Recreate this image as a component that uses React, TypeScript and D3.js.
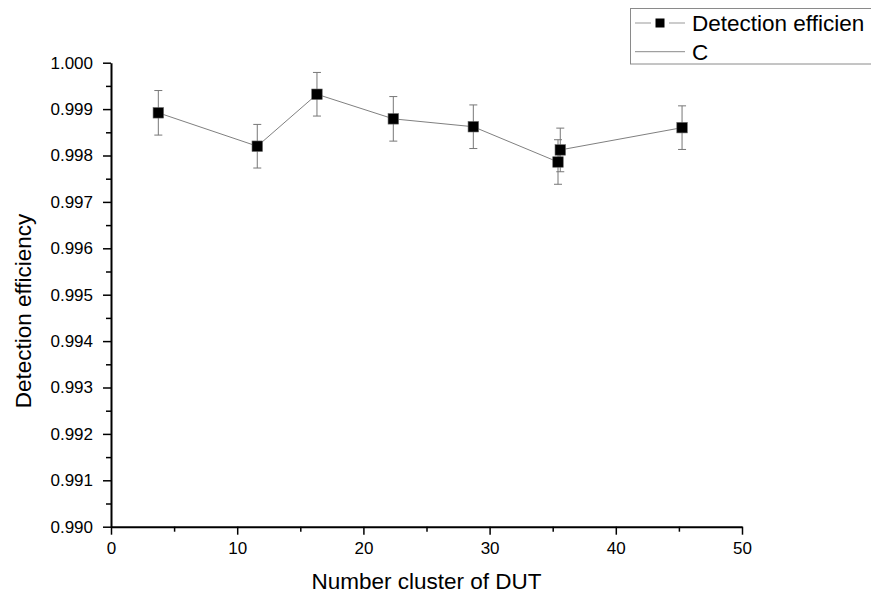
import { useEffect, useRef } from "react";
import * as d3 from "d3";

const WIDTH = 871;
const HEIGHT = 595;
const MARGIN = { top: 62.7, right: 129, bottom: 68.3, left: 111 };
const FONT = "'Liberation Sans', Arial, sans-serif";

// Number cluster of DUT
const clusters = [3.75, 11.59, 16.32, 22.37, 28.71, 35.42, 35.6, 45.25];
// Detection efficiency
const efficiency = [0.99892, 0.9982, 0.99932, 0.99879, 0.99862, 0.99786, 0.99812, 0.9986];
const errors = [0.00048, 0.00047, 0.00047, 0.00048, 0.00047, 0.00048, 0.00047, 0.00047];

const xMajorTicks = [0, 10, 20, 30, 40, 50];
const yMajorTicks = [0.99, 0.991, 0.992, 0.993, 0.994, 0.995, 0.996, 0.997, 0.998, 0.999, 1.0];

// legend runs off the right edge in the original, so the first label is cut
const legendItems = ["Detection efficien", "C"];

type Point = { x: number; y: number; err: number };

const LineErrorChart = () => {
  const axesRef = useRef<SVGGElement>(null);
  const boundsWidth = WIDTH - MARGIN.left - MARGIN.right;
  const boundsHeight = HEIGHT - MARGIN.top - MARGIN.bottom;

  const data: Point[] = clusters.map((x, i) => ({ x, y: efficiency[i], err: errors[i] }));

  const xScale = d3.scaleLinear().domain([0, 50]).range([0, boundsWidth]);
  const yScale = d3.scaleLinear().domain([0.99, 1.0]).range([boundsHeight, 0]);

  useEffect(() => {
    const g = d3.select(axesRef.current);
    g.selectAll("*").remove();

    // minor ticks first
    const xMinor = d3.range(5, 50, 10);
    const yMinor = d3.range(0, 10).map((i) => 0.9905 + i * 0.001);

    g.append("g")
      .attr("transform", `translate(0,${boundsHeight})`)
      .call(d3.axisBottom(xScale).tickValues(xMinor).tickSize(5).tickSizeOuter(0).tickFormat(() => ""))
      .call((s) => s.select(".domain").remove());
    g.append("g")
      .call(d3.axisLeft(yScale).tickValues(yMinor).tickSize(5).tickSizeOuter(0).tickFormat(() => ""))
      .call((s) => s.select(".domain").remove());

    const xAxis = g
      .append("g")
      .attr("transform", `translate(0,${boundsHeight})`)
      .call(
        d3.axisBottom(xScale).tickValues(xMajorTicks).tickSize(8).tickSizeOuter(0).tickPadding(7).tickFormat(d3.format("d"))
      );
    const yAxis = g
      .append("g")
      .call(
        d3.axisLeft(yScale).tickValues(yMajorTicks).tickSize(8).tickSizeOuter(0).tickPadding(10).tickFormat(d3.format(".3f"))
      );

    [xAxis, yAxis].forEach((a) => {
      a.select(".domain").attr("stroke-width", 2);
      a.selectAll("text").attr("font-size", 17).attr("font-family", FONT).attr("fill", "#000");
    });
    g.selectAll(".tick line").attr("stroke-width", 1.5);
  }, []);

  const lineBuilder = d3
    .line<Point>()
    .x((d) => xScale(d.x))
    .y((d) => yScale(d.y));

  const cap = 4;
  const size = 10.5;

  return (
    <svg
      width={WIDTH}
      height={HEIGHT}
      style={{ position: "absolute", left: 0, top: 0, background: "#fff" }}
    >
      <g transform={`translate(${MARGIN.left},${MARGIN.top})`}>
        <path d={lineBuilder(data) || ""} fill="none" stroke="#808080" strokeWidth={1} />
        {data.map((d, i) => {
          const cx = xScale(d.x);
          const top = yScale(d.y + d.err);
          const bot = yScale(d.y - d.err);
          return (
            <g key={`err-${i}`} stroke="#777" strokeWidth={1}>
              <line x1={cx} x2={cx} y1={top} y2={bot} />
              <line x1={cx - cap} x2={cx + cap} y1={top} y2={top} />
              <line x1={cx - cap} x2={cx + cap} y1={bot} y2={bot} />
            </g>
          );
        })}
        {data.map((d, i) => (
          <rect
            key={`pt-${i}`}
            x={xScale(d.x) - size / 2}
            y={yScale(d.y) - size / 2}
            width={size}
            height={size}
            fill="#000"
            stroke="#666"
            strokeWidth={0.6}
          />
        ))}
      </g>

      <g ref={axesRef} transform={`translate(${MARGIN.left},${MARGIN.top})`} />

      {/* axis titles */}
      <text
        x={MARGIN.left + boundsWidth / 2}
        y={589}
        textAnchor="middle"
        fontFamily={FONT}
        fontSize={22.5}
      >
        Number cluster of DUT
      </text>
      <text
        transform="translate(31,311) rotate(-90)"
        textAnchor="middle"
        fontFamily={FONT}
        fontSize={22.5}
      >
        Detection efficiency
      </text>

      {/* legend */}
      <g>
        <rect x={630.5} y={8.5} width={260} height={55.5} fill="#fff" stroke="#8a8a8a" strokeWidth={1} />
        {legendItems.map((label, i) => {
          const cy = 23 + i * 28.7;
          return (
            <g key={label}>
              {i === 0 ? (
                <>
                  <line x1={635} x2={651} y1={cy} y2={cy} stroke="#999" strokeWidth={1} />
                  <rect x={655.5} y={cy - 4.5} width={9} height={9} fill="#000" />
                  <line x1={669} x2={685} y1={cy} y2={cy} stroke="#999" strokeWidth={1} />
                </>
              ) : (
                <line x1={635} x2={685} y1={cy} y2={cy} stroke="#8a8a8a" strokeWidth={1} />
              )}
              <text x={692} y={cy + 8} fontFamily={FONT} fontSize={22.5}>
                {label}
              </text>
            </g>
          );
        })}
      </g>
    </svg>
  );
};

export default function App() {
  return <LineErrorChart />;
}
